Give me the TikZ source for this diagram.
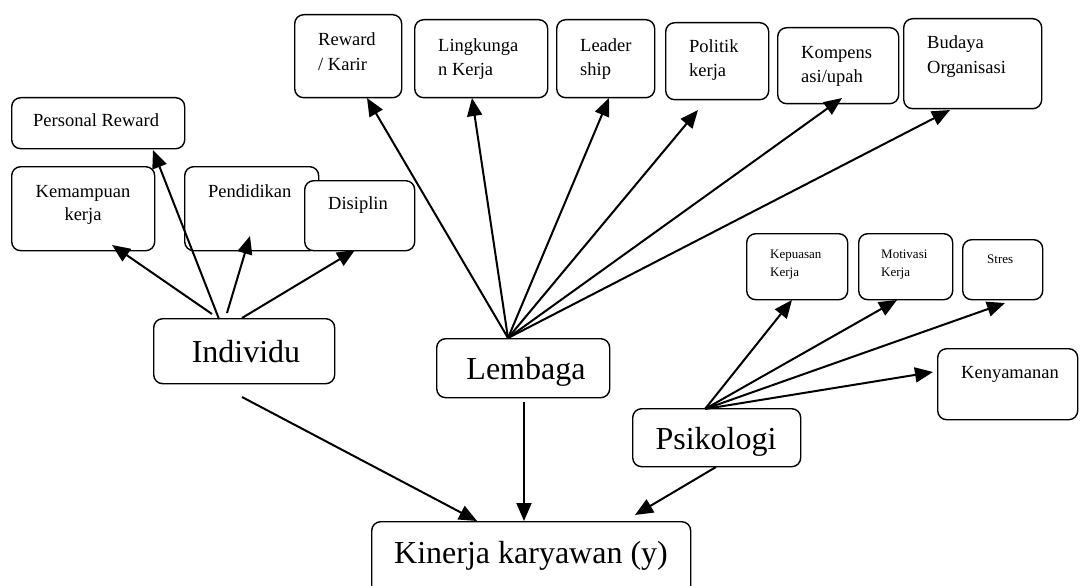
\documentclass[tikz,border=0pt]{standalone}
\usepackage{fontspec}
\setmainfont{Liberation Serif}
\usetikzlibrary{arrows.meta}
\newcommand\fsmall{\fontsize{18.5}{22}\selectfont}
\newcommand\ftiny{\fontsize{13}{16}\selectfont}
\newcommand\fbig{\fontsize{32}{38}\selectfont}
\begin{document}
\begin{tikzpicture}[x=1pt,y=-1pt,
  box/.style={draw, line width=1.4pt, rounded corners=9pt, inner sep=0pt, anchor=north west},
  lbl/.style={inner sep=0pt, anchor=base west},
  lblc/.style={inner sep=0pt, anchor=base},
  arr/.style={line width=2pt, -{Triangle[length=18pt,width=15pt]}},
  ln/.style={line width=2pt}]
\useasboundingbox (0,0) rectangle (1080,586);
% ---- boxes ----
\node[box, minimum width=173pt, minimum height=51pt] (pr) at (11,97) {};
\node[box, minimum width=143pt, minimum height=84pt] (km) at (11,166) {};
\node[box, minimum width=134pt, minimum height=84pt] (pd) at (184,166) {};
\node[box, fill=white, minimum width=110pt, minimum height=70pt] (ds) at (304,180) {};
\node[box, minimum width=107pt, minimum height=83pt] (rk) at (294,14) {};
\node[box, minimum width=133pt, minimum height=78pt] (lk) at (414,19) {};
\node[box, minimum width=98pt, minimum height=78pt] (ld) at (556,19) {};
\node[box, minimum width=103pt, minimum height=77pt] (pk) at (665,22) {};
\node[box, minimum width=121pt, minimum height=76pt] (ku) at (777,27) {};
\node[box, minimum width=138pt, minimum height=90pt] (bo) at (903,18) {};
\node[box, minimum width=101pt, minimum height=66pt] (kp) at (746,233) {};
\node[box, minimum width=94pt, minimum height=66pt] (mk) at (858,233) {};
\node[box, minimum width=80pt, minimum height=60pt] (st) at (962,239) {};
\node[box, minimum width=140pt, minimum height=71pt] (ky) at (937,348) {};
\node[box, minimum width=181pt, minimum height=65pt] (in) at (153,318) {};
\node[box, minimum width=173pt, minimum height=59pt] (lb) at (436,338) {};
\node[box, minimum width=168pt, minimum height=58pt] (ps) at (632,408) {};
\node[box, minimum width=319pt, minimum height=80pt] (kn) at (371,521) {};
% ---- texts ----
\node[lbl] (tpr) at (33,126) {\fsmall Personal Reward};
\node[lblc] (tkm1) at (83,197) {\fsmall Kemampuan};
\node[lblc] (tkm2) at (83,220) {\fsmall kerja};
\node[lbl] (tpd) at (208,197) {\fsmall Pendidikan};
\node[lbl] (tds) at (328,209) {\fsmall Disiplin};
\node[lbl] (trk1) at (318,46) {\fsmall Reward};
\node[lbl] (trk2) at (318,71) {\fsmall / Karir};
\node[lbl] (tlk1) at (438,52) {\fsmall Lingkunga};
\node[lbl] (tlk2) at (438,76) {\fsmall n Kerja};
\node[lbl] (tld1) at (580,52) {\fsmall Leader};
\node[lbl] (tld2) at (580,76) {\fsmall ship};
\node[lbl] (tpk1) at (689,53) {\fsmall Politik};
\node[lbl] (tpk2) at (689,77) {\fsmall kerja};
\node[lbl] (tku1) at (801,59) {\fsmall Kompens};
\node[lbl] (tku2) at (801,83) {\fsmall asi/upah};
\node[lbl] (tbo1) at (927,49) {\fsmall Budaya};
\node[lbl] (tbo2) at (927,74) {\fsmall Organisasi};
\node[lbl] (tkp1) at (770,258) {\ftiny Kepuasan};
\node[lbl] (tkp2) at (770,276) {\ftiny Kerja};
\node[lbl] (tmk1) at (881,258) {\ftiny Motivasi};
\node[lbl] (tmk2) at (881,276) {\ftiny Kerja};
\node[lbl] (tst) at (987,263) {\ftiny Stres};
\node[lbl] (tky) at (961,378) {\fsmall Kenyamanan};
\node[lblc] (tin) at (246,362) {\fbig Individu};
\node[lblc] (tlb) at (526,379) {\fbig Lembaga};
\node[lblc] (tps) at (716,449) {\fbig Psikologi};
\node[lblc] (tkn) at (531,563) {\fbig Kinerja karyawan (y)};
% ---- connector end points ----
\coordinate (i1) at (212,314); \coordinate (e1) at (112,245);
\coordinate (i2) at (219,319); \coordinate (e2) at (153,150);
\coordinate (i3) at (227,313); \coordinate (e3) at (250,236);
\coordinate (i4) at (242,318); \coordinate (e4) at (355,250);
\coordinate (lo) at (508,338);
\coordinate (f1) at (367,98); \coordinate (f2) at (472,98);
\coordinate (f3) at (609,98); \coordinate (f4) at (698,110);
\coordinate (f5) at (842,98); \coordinate (f6) at (950,110);
\coordinate (po) at (705,409);
\coordinate (g1) at (792,300); \coordinate (g2) at (897,300);
\coordinate (g3) at (1005,303); \coordinate (g4) at (933,372);
\coordinate (s1) at (242,397); \coordinate (k1) at (477,521);
\coordinate (s2) at (524,402); \coordinate (k2) at (524,521);
\coordinate (s3) at (716,467); \coordinate (k3) at (635,515);
% ---- connectors ----
\foreach \a/\b in {i1/e1,i2/e2,i3/e3,i4/e4,lo/f1,lo/f2,lo/f3,lo/f4,lo/f5,lo/f6,po/g1,po/g2,po/g3,po/g4,s1/k1,s2/k2,s3/k3}
  \draw[arr] (\a) -- (\b);
\end{tikzpicture}
\end{document}
